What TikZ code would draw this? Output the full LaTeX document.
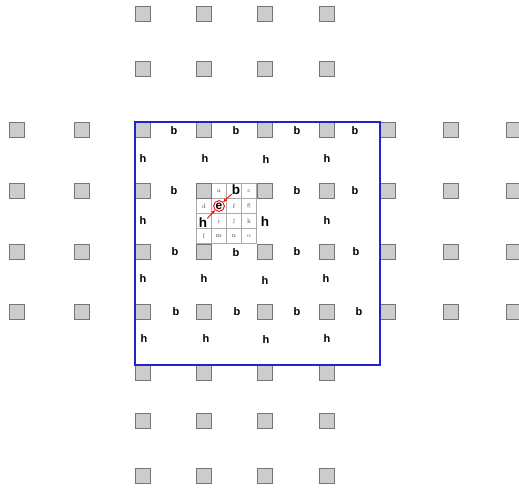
\documentclass[tikz,border=0pt]{standalone}
\usepackage{fontspec}
\setsansfont{Liberation Sans}
\usepackage{xcolor}
\usepackage{tikz}
\usetikzlibrary{arrows.meta}
\definecolor{padgray}{RGB}{204,204,204}
\definecolor{padedge}{RGB}{118,118,118}
\definecolor{celledge}{RGB}{170,170,170}
\definecolor{letgray}{RGB}{70,70,70}
\definecolor{frameblue}{RGB}{35,35,205}

\begin{document}
\begin{tikzpicture}[x=1pt,y=-1pt,
          pad/.style={draw=padedge,fill=padgray,line width=0.8pt,minimum size=15.5pt,inner sep=0pt},
          cell/.style={draw=celledge,line width=0.5pt,minimum size=15pt,inner sep=0pt,
                       text=letgray,font=\fontsize{6.5}{7}\selectfont},
          lbl/.style={inner sep=0pt,font=\sffamily\bfseries\fontsize{11}{12}\selectfont},
          lblbig/.style={inner sep=0pt,font=\sffamily\bfseries\fontsize{13.5}{14}\selectfont},
          ering/.style={circle,draw=red,line width=0.9pt,inner sep=0.5pt,
                        font=\sffamily\bfseries\fontsize{12}{12}\selectfont},
          link/.style={-{Stealth[length=4pt,width=3.4pt]},red,line width=0.9pt}]
        \useasboundingbox (0,0) rectangle (519,488);
        \foreach \i/\j/\t in {0/0/{},1/0/a,2/0/{},3/0/c,0/1/d,1/1/{},2/1/f,3/1/g,
                              0/2/{},1/2/i,2/2/j,3/2/k,0/3/l,1/3/m,2/3/n,3/3/o}
          \node[cell] (c-\i-\j) at (204+15*\i,191+15*\j) {\t};
        \foreach \y/\r in {14/1,69/2,373/7,421/8,476/9}
          \foreach \x/\c in {143/3,204/4,265/5,327/6}
            \node[pad] (p-\r-\c) at (\x,\y) {};
        \foreach \y/\r in {130/3,191/4,252/5,312/6}
          \foreach \x/\c in {17/1,82/2,143/3,204/4,265/5,327/6,388/7,451/8,514/9}
            \node[pad] (p-\r-\c) at (\x,\y) {};
        \draw[frameblue,line width=1.3pt] (135,122) rectangle (380,365);
        \foreach \x/\y [count=\k] in {174/131,236/131,297/131,355/131,174/191,297/191,355/191,
                                      175/252,236/253,297/252,356/252,176/312,237/312,297/312,359/312}
          \node[lbl] (b\k) at (\x,\y) {b};
        \foreach \x/\y [count=\k] in {143/159,205/159,266/160,327/159,143/221,327/221,
                                      143/279,204/279,265/281,326/279,144/339,206/339,266/340,327/339}
          \node[lbl] (h\k) at (\x,\y) {h};
        \node[lblbig] (hr) at (265,222) {h};
        \node[lblbig] (gb) at (236,190) {b};
        \node[lblbig] (gh) at (203,223) {h};
        \node[ering] (ge) at (c-1-1) {e};
        \draw[link] (gb) -- (ge);
        \draw[link] (gh) -- (ge);
      \end{tikzpicture}
\end{document}
